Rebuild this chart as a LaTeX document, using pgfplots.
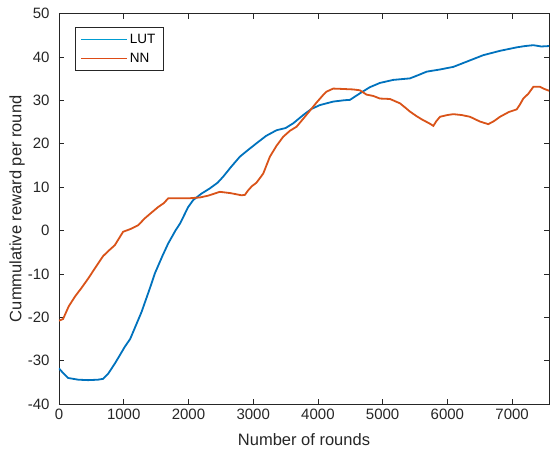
\documentclass[border=0pt]{standalone}
\usepackage{fontspec}
\setmainfont{Liberation Sans}
\usepackage{pgfplots}
\pgfplotsset{compat=1.18}

\definecolor{lutblue}{rgb}{0,0.447,0.741}
\definecolor{nnorange}{rgb}{0.85,0.325,0.098}
\definecolor{axgray}{rgb}{0.15,0.15,0.15}

\begin{document}
\begin{tikzpicture}
% fixed page frame around the axis box
\useasboundingbox (-59bp,-47bp) rectangle (491bp,404bp);
\begin{axis}[
  at={(0,0)}, anchor=south west,
  scale only axis, width=490bp, height=390.5bp,
  xmin=0, xmax=7570, ymin=-40, ymax=50,
  xtick={0,1000,...,7000}, ytick={-40,-30,...,50},
  axis line style={axgray, line width=0.5bp},
  every tick/.style={axgray, line width=0.5bp},
  major tick length=5bp,
  tick align=inside,
  scaled x ticks=false,
  /pgf/number format/assume math mode=true,
  /pgf/number format/set thousands separator={},
  tick label style={font=\fontsize{15bp}{18bp}\selectfont, text=axgray},
  xticklabel style={yshift=-2bp},
  yticklabel style={xshift=-6bp},
  xlabel={Number of rounds},
  ylabel={Cummulative reward per round},
  label style={font=\fontsize{16.5bp}{20bp}\selectfont, text=axgray},
  xlabel style={at={(axis description cs:0.5,-0.092)}, anchor=center},
  ylabel style={at={(axis description cs:-0.0857,0.5)}, anchor=center},
  legend style={at={(axis description cs:0.032,0.965)}, anchor=north west,
    font=\fontsize{13.5bp}{16bp}\selectfont,
    draw=axgray, inner xsep=6bp, inner ysep=4.5bp,
    row sep=4.5bp},
  legend cell align=left,
]
% legend samples
\addlegendimage{legend image code/.code={\draw[lutblue!70!cyan, line width=1bp] (0bp,0bp) -- (46bp,0bp);}}
\addlegendentry{LUT}
\addlegendimage{legend image code/.code={\draw[nnorange!90!red, line width=1bp] (0bp,0bp) -- (46bp,0bp);}}
\addlegendentry{NN}

\addplot[lutblue, line width=1.8bp, forget plot] coordinates {
(0,-31.8) (60,-32.8) (140,-34.0) (300,-34.4) (450,-34.5) (600,-34.4)
(682,-34.2) (760,-33.0) (862,-30.7) (950,-28.5) (1017,-26.8) (1100,-25.0)
(1275,-18.8) (1400,-13.5) (1481,-9.9) (1600,-5.8) (1687,-3.0) (1800,0.0)
(1870,1.6) (1996,5.4) (2073,7.0) (2202,8.5) (2331,9.7) (2450,11.0)
(2537,12.4) (2650,14.5) (2794,17.0) (2900,18.3) (3052,20.1) (3200,21.8)
(3361,23.1) (3500,23.6) (3619,24.7) (3773,26.6) (3900,28.0) (4031,28.9)
(4237,29.7) (4400,30.0) (4495,30.1) (4649,31.6) (4800,33.0) (4958,34.0)
(5164,34.7) (5422,35.05) (5550,35.8) (5680,36.6) (5886,37.1) (6092,37.7)
(6298,38.9) (6555,40.4) (6813,41.4) (7071,42.2) (7200,42.5) (7328,42.7)
(7450,42.4) (7570,42.5)
};
\addplot[nnorange, line width=1.8bp, forget plot] coordinates {
(0,-20.8) (63,-20.4) (150,-17.5) (244,-15.3) (350,-13.2) (450,-11.1)
(605,-7.6) (682,-5.9) (780,-4.5) (862,-3.4) (920,-2.0) (991,-0.3)
(1100,0.3) (1223,1.2) (1326,2.8) (1420,4.0) (1532,5.4) (1620,6.3)
(1687,7.4) (1870,7.4) (1996,7.4) (2176,7.6) (2300,8.0) (2485,8.9)
(2650,8.6) (2821,8.1) (2872,8.2) (2920,9.2) (2980,10.2) (3050,11.0) (3100,12.0)
(3155,13.1) (3258,17.0) (3360,19.5) (3464,21.6) (3570,23.0) (3670,23.9)
(3776,25.8) (3876,27.6) (3980,29.5) (4080,31.2) (4134,32.0) (4237,32.7)
(4400,32.6) (4545,32.5) (4649,32.3) (4752,31.3) (4855,31.0) (4958,30.4)
(5113,30.3) (5268,29.3) (5350,28.3) (5422,27.4) (5528,26.3) (5628,25.4)
(5720,24.7) (5783,24.1) (5830,25.2) (5886,26.2) (6000,26.6) (6092,26.8)
(6220,26.6) (6349,26.2) (6503,25.1) (6632,24.5) (6720,25.2) (6813,26.2)
(6950,27.3) (7071,27.9) (7120,29.0) (7173,30.4) (7250,31.5) (7328,33.1)
(7431,33.1) (7500,32.6) (7570,32.2)
};
\end{axis}
\end{tikzpicture}
\end{document}
